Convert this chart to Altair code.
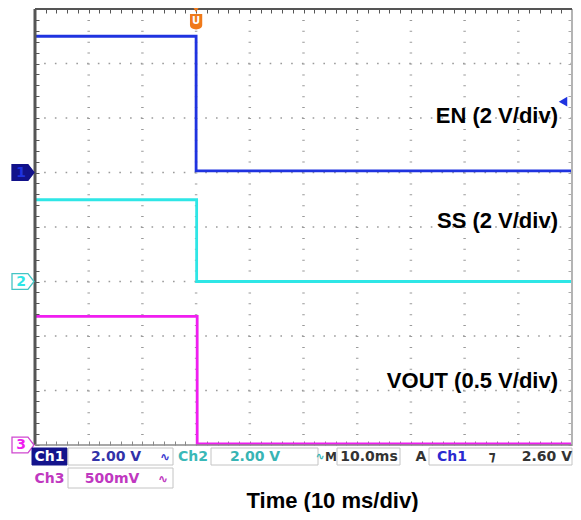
import altair as alt
import pandas as pd

channels = ["EN", "SS", "VOUT"]
volts_per_div = [2.0, 2.0, 0.5]
ground_div = [5, 3, 0]            # ground markers, divisions above screen bottom
marker_labels = ["1", "2", "3"]
trace_labels = ["EN (2 V/div)", "SS (2 V/div)", "VOUT (0.5 V/div)"]

en_time = [0, 30.0, 30.0, 100]
en_volts = [5.0, 5.0, 0.06, 0.06]
ss_time = [0, 30.1, 30.1, 100]
ss_volts = [3.0, 3.0, 0.0, 0.0]
vout_time = [0, 30.2, 30.2, 100]
vout_volts = [1.18, 1.18, 0.01, 0.01]

trigger_time_ms = [30.0]
trigger_level_v = [2.60]          # on Ch1 (EN)

x_divisions = [0, 10, 20, 30, 40, 50, 60, 70, 80, 90, 100]      # ms
y_divisions = [0, 1, 2, 3, 4, 5, 6, 7, 8]
x_minor = [i * 2 for i in range(51)]          # 5 minor ticks per division
y_minor = [i * 0.2 for i in range(41)]

x_title = "Time (10 ms/div)"
status_ch1 = ["Ch1", "2.00 V"]
status_ch2 = ["Ch2", "2.00 V"]
status_ch3 = ["Ch3", "500mV"]
status_time = ["M", "10.0ms"]
status_trig = ["A", "Ch1", "\u204a", "2.60 V"]
coupling = "\u223f"
trig_glyph = "U"

# ---------------- styles ----------------
trace_colors = ["#1f33e0", "#2ee6e6", "#f01ef0"]
MONO = "DejaVu Sans"
SANS = "Liberation Sans, Arial, sans-serif"
W, H = 537, 436
PX_DIV = W / 10.0

# ---------------- tables ----------------
rows = []
for ch, tl, vl, vpd, g in zip(channels, [en_time, ss_time, vout_time],
                              [en_volts, ss_volts, vout_volts], volts_per_div, ground_div):
    for i, (t, v) in enumerate(zip(tl, vl)):
        rows.append({"ch": ch, "t": t, "v": v, "pos": g + v / vpd, "i": i})
trace_df = pd.DataFrame(rows)
marker_df = pd.DataFrame({"ch": channels, "g": ground_div, "label": marker_labels})
trig_lvl_df = pd.DataFrame({"pos": [ground_div[0] + v / volts_per_div[0] for v in trigger_level_v]})
trig_t_df = pd.DataFrame({"t": trigger_time_ms})

xs = alt.Scale(domain=[x_divisions[0], x_divisions[-1]], nice=False, zero=False)
ys = alt.Scale(domain=[y_divisions[0], y_divisions[-1]], nice=False, zero=False)


def tick_axis(orient, values, color):
    return alt.Axis(orient=orient, offset=-4, values=values, labels=False, domain=False,
                    grid=False, ticks=True, tickSize=4, tickColor=color, tickWidth=1)


def txt(label, x, y, color="black", size=14, weight="bold", font=MONO,
        align="center", baseline="middle"):
    return alt.Chart(pd.DataFrame({"s": [label]})).mark_text(
        align=align, baseline=baseline, font=font, fontSize=size,
        fontWeight=weight, color=color).encode(
        x=alt.value(x), y=alt.value(y), text="s:N")


def box(x1, x2, y1, y2, fill="white", stroke="#c4c4c4"):
    return alt.Chart(pd.DataFrame({"k": [0]})).mark_rect(
        fill=fill, stroke=stroke, strokeWidth=1).encode(
        x=alt.value(x1), x2=alt.value(x2), y=alt.value(y1), y2=alt.value(y2))


# grid (dots every fifth of a division)
grid_x = alt.Chart(pd.DataFrame({"t": x_divisions[1:-1]})).mark_rule(
    color="#9a9a9a", strokeWidth=2.5, strokeDash=[1, 9.9]).encode(
    x=alt.X("t:Q", scale=xs, title=None, axis=tick_axis("top", x_minor, "#555555")))
grid_y = alt.Chart(pd.DataFrame({"d": y_divisions[1:-1]})).mark_rule(
    color="#9a9a9a", strokeWidth=1.6, strokeDash=[1.6, PX_DIV / 5 - 1.6]).encode(
    y=alt.Y("d:Q", scale=ys, title=None, axis=tick_axis("right", y_minor, "#aaaaaa")))

border_left = alt.Chart(pd.DataFrame({"t": [x_divisions[0]]})).mark_rule(
    color="#555555", strokeWidth=3).encode(x=alt.X("t:Q", scale=xs, axis=None))
border_right = alt.Chart(pd.DataFrame({"t": [x_divisions[-1]]})).mark_rule(
    color="#b4b4b4", strokeWidth=2).encode(x=alt.X("t:Q", scale=xs, axis=None))
border_top = alt.Chart(pd.DataFrame({"d": [y_divisions[-1]]})).mark_rule(
    color="#555555", strokeWidth=2).encode(y=alt.Y("d:Q", scale=ys, axis=None))
border_bottom = alt.Chart(pd.DataFrame({"d": [y_divisions[0]]})).mark_rule(
    color="#8a8a8a", strokeWidth=1.6).encode(y=alt.Y("d:Q", scale=ys, axis=None))

traces = alt.Chart(trace_df).mark_line(strokeWidth=2.8).encode(
    x=alt.X("t:Q", scale=xs, title=None, axis=tick_axis("bottom", x_minor, "#888888")),
    y=alt.Y("pos:Q", scale=ys, title=None, axis=tick_axis("left", y_minor, "#555555")),
    color=alt.Color("ch:N", scale=alt.Scale(domain=channels, range=trace_colors), legend=None),
    order=alt.Order("i:Q"),
)

marker_path = "M -1 -0.72 L 0.45 -0.72 L 1 0 L 0.45 0.72 L -1 0.72 Z"
markers = alt.Chart(marker_df).mark_point(
    shape=marker_path, size=484, filled=True, opacity=1, strokeWidth=1.3).encode(
    x=alt.value(-12),
    y=alt.Y("g:Q", scale=ys, axis=None),
    fill=alt.Fill("ch:N", scale=alt.Scale(domain=channels, range=["#12128a", "white", "white"]), legend=None),
    stroke=alt.Stroke("ch:N", scale=alt.Scale(domain=channels, range=["#12128a", "#44c4c4", "#d048d0"]), legend=None),
)
marker_text = alt.Chart(marker_df).mark_text(
    font=MONO, fontSize=14, fontWeight="bold", baseline="middle").encode(
    x=alt.value(-14),
    y=alt.Y("g:Q", scale=ys, axis=None),
    text="label:N",
    color=alt.Color("ch:N", scale=alt.Scale(domain=channels, range=["white", "#34b8b8", "#c438c4"]), legend=None),
)

trig_level = alt.Chart(trig_lvl_df).mark_point(
    shape="triangle-left", size=95, filled=True, opacity=1, color=trace_colors[0]).encode(
    x=alt.value(W - 9), y=alt.Y("pos:Q", scale=ys, axis=None))

shield = "M -1 -1.3 L 1 -1.3 L 1 0.5 C 1 1.45 -1 1.45 -1 0.5 Z"
trig_pos = alt.Chart(trig_t_df).mark_point(
    shape=shield, size=150, filled=True, opacity=1, color="#f07a1a").encode(
    x=alt.X("t:Q", scale=xs, axis=None), y=alt.value(13))
trig_pos_cap = alt.Chart(trig_t_df).mark_point(
    shape="triangle-down", size=60, filled=True, opacity=1, color="#f07a1a").encode(
    x=alt.X("t:Q", scale=xs, axis=None), y=alt.value(0))
trig_pos_txt = alt.Chart(trig_t_df.assign(s=trig_glyph)).mark_text(
    font=MONO, fontSize=10, fontWeight="bold", color="white", baseline="middle").encode(
    x=alt.X("t:Q", scale=xs, axis=None), y=alt.value(12), text="s:N")

labels = [
    txt(trace_labels[0], 523, 114, size=22, font=SANS, align="right", baseline="alphabetic"),
    txt(trace_labels[1], 523, 219, size=22, font=SANS, align="right", baseline="alphabetic"),
    txt(trace_labels[2], 523, 379, size=22, font=SANS, align="right", baseline="alphabetic"),
]

r1, r2 = 447.5, 469.5
status = [
    box(-3, 32, 439, 456, fill="#14148c", stroke="#14148c"),
    txt(status_ch1[0], 14.5, r1, color="white"),
    box(33, 138, 439, 456),
    txt(status_ch1[1], 81, r1, color="#3232a8"),
    txt(coupling, 130, r1, color="#3a3ad0", size=12),
    txt(status_ch2[0], 158, r1, color="#3ab8b8"),
    box(176, 283, 439, 456),
    txt(status_ch2[1], 220, r1, color="#38b4b4"),
    txt(coupling, 285, r1, color="#38b4b4", size=11),
    txt(status_time[0], 296, r1, color="#333333", size=12),
    box(302, 365, 439, 456),
    txt(status_time[1], 334, r1, color="#333333"),
    txt(status_trig[0], 386, r1, color="#333333"),
    box(394, W, 439, 456),
    txt(status_trig[1], 417, r1, color="#2a2ad0"),
    txt(status_trig[2], 457, r1, color="#333333"),
    txt(status_trig[3], W, r1, color="#333333", align="right"),
    txt(status_ch3[0], 14.5, r2, color="#c038c0"),
    box(33, 138, 459, 479),
    txt(status_ch3[1], 77, r2, color="#c038c0"),
    txt(coupling, 128, r2, color="#c038c0", size=12),
    txt(x_title, 297.5, 498.5, size=22, font=SANS, baseline="alphabetic"),
]

chart = alt.layer(
    grid_x, grid_y, traces,
    border_left, border_right, border_top, border_bottom,
    markers, marker_text, trig_level, trig_pos_cap, trig_pos, trig_pos_txt,
    *labels, *status,
).resolve_axis(x="independent", y="independent").properties(
    width=W, height=H,
    autosize=alt.AutoSizeParams(type="none"),
    padding={"left": 27, "top": 1, "right": 1, "bottom": 67},
    background="white",
).configure_view(strokeWidth=0)

chart.save("out.html", embed_options={"renderer": "svg", "actions": False})
